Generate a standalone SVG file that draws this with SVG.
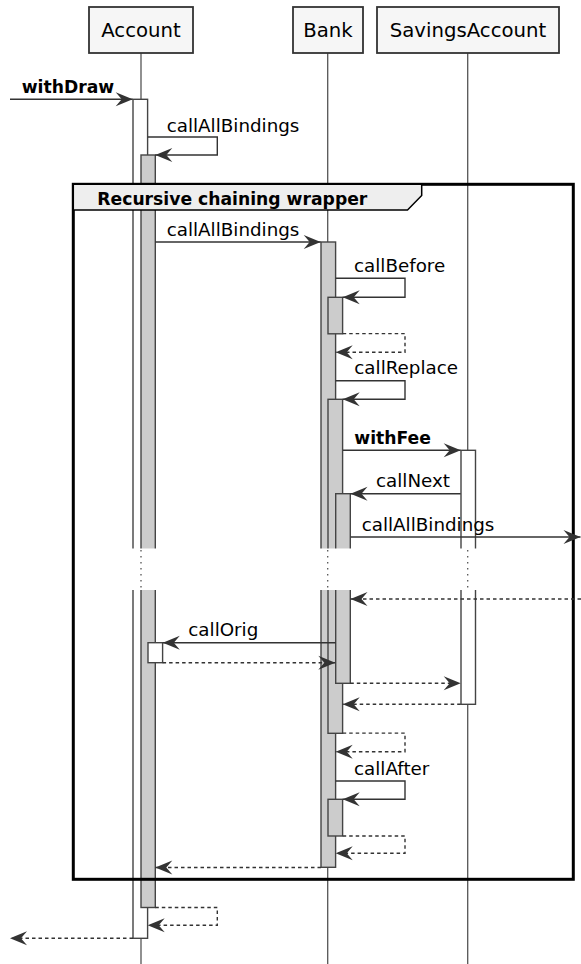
<svg xmlns="http://www.w3.org/2000/svg" width="581" height="964" viewBox="0 0 581 964">
<style>
.pbox{fill:#F6F6F6;stroke:#333;stroke-width:1.8}
.ptxt{font-family:"DejaVu Sans",sans-serif;font-size:19.7px;fill:#000;text-anchor:middle}
.life{stroke:#555;stroke-width:1.3;fill:none}
.actg{fill:#CCCCCC;stroke:#444;stroke-width:1.4}
.actw{fill:#FFFFFF;stroke:#444;stroke-width:1.4}
.msg{fill:none;stroke:#333;stroke-width:1.4;marker-end:url(#ah)}
.ret{fill:none;stroke:#333;stroke-width:1.4;stroke-dasharray:3.5,3;marker-end:url(#ah)}
.lbl{font-family:"DejaVu Sans",sans-serif;font-size:18.3px;fill:#000}
.blbl{font-family:"DejaVu Sans",sans-serif;font-size:17.2px;font-weight:bold;fill:#000}
.dots{stroke:#555;stroke-width:1.3;stroke-dasharray:1.5,4.5}
</style>
<defs>
<marker id="ah" markerUnits="userSpaceOnUse" markerWidth="20" markerHeight="16" viewBox="-18 -8 20 16" refX="0" refY="0" orient="auto">
<path d="M0,0 L-17,-7 L-11,0 L-17,7 Z" fill="#333"/>
</marker>
</defs>
<rect width="581" height="964" fill="#FFFFFF"/>

<g id="Account">
<line class="life" x1="141" y1="53" x2="141" y2="964"/>
<rect class="pbox" x="89" y="7" width="104" height="46"/>
<text class="ptxt" x="141" y="37">Account</text>
</g>
<g id="Bank">
<line class="life" x1="327.7" y1="53" x2="327.7" y2="964"/>
<rect class="pbox" x="293" y="7" width="70" height="46"/>
<text class="ptxt" x="328" y="37">Bank</text>
</g>
<g id="SavingsAccount">
<line class="life" x1="467.7" y1="53" x2="467.7" y2="964"/>
<rect class="pbox" x="377" y="7" width="182" height="46"/>
<text class="ptxt" x="468" y="37">SavingsAccount</text>
</g>

<g id="activations">
<rect class="actw" x="133" y="99.3" width="14.6" height="839"/>
<rect class="actg" x="141" y="155" width="14.3" height="752.5"/>
<rect class="actw" x="148" y="642.7" width="14.6" height="20"/>
<rect class="actg" x="321" y="242" width="14.6" height="625.3"/>
<rect class="actg" x="328" y="297.3" width="14.6" height="36.5"/>
<rect class="actg" x="328" y="399.3" width="14.6" height="334"/>
<rect class="actg" x="335.7" y="493.7" width="14.6" height="189.6"/>
<rect class="actg" x="328" y="799.3" width="14.6" height="36.7"/>
<rect class="actw" x="461" y="450.3" width="14.5" height="254"/>
</g>

<g id="break">
<rect x="125" y="548.5" width="360" height="41.5" fill="#FFFFFF"/>
<line class="dots" x1="141" y1="550" x2="141" y2="588"/>
<line class="dots" x1="327.7" y1="550" x2="327.7" y2="588"/>
<line class="dots" x1="467.7" y1="550" x2="467.7" y2="588"/>
</g>

<g id="frame">
<rect x="73.3" y="184.3" width="500" height="695" fill="none" stroke="#000" stroke-width="3"/>
<path d="M73.3,184.3 H421.7 V195.5 L407.5,210 H73.3 Z" fill="#EEEEEE" stroke="#000" stroke-width="1.5"/>
<text class="blbl" x="97.3" y="205">Recursive chaining wrapper</text>
</g>

<g id="connectors">
<path class="msg" d="M10,99.3 H132.7"/>
<path class="msg" d="M147.7,137 H217.3 V155 H155.3"/>
<path class="msg" d="M155.3,242 H320.7"/>
<path class="msg" d="M335.7,278.3 H405 V297.3 H342.7"/>
<path class="ret" d="M342.7,333.6 H405 V352.3 H335.7"/>
<path class="msg" d="M335.7,380.7 H405 V399.3 H342.7"/>
<path class="msg" d="M343,450.3 H460.7"/>
<path class="msg" d="M460.7,493.7 H350.5"/>
<path class="msg" d="M350.5,537 H580.5"/>
<path class="ret" d="M581,599 H350.5"/>
<path class="msg" d="M335.7,642.7 H162.8"/>
<path class="ret" d="M162.6,662.7 H335.3"/>
<path class="ret" d="M350.3,683.3 H460.7"/>
<path class="ret" d="M460.7,704.3 H342.7"/>
<path class="ret" d="M342.7,733.1 H405 V751.7 H335.7"/>
<path class="msg" d="M335.7,781 H405 V799.3 H342.7"/>
<path class="ret" d="M342.7,836 H405 V853.3 H335.7"/>
<path class="ret" d="M321,867.5 H155.3"/>
<path class="ret" d="M155.3,907.5 H217.3 V925.3 H147.7"/>
<path class="ret" d="M133,938.3 H10"/>
</g>

<g id="labels">
<text class="blbl" x="21.7" y="92.5">withDraw</text>
<text class="lbl" x="166.7" y="131.5">callAllBindings</text>
<text class="lbl" x="166.7" y="235.5">callAllBindings</text>
<text class="lbl" x="354" y="271.8">callBefore</text>
<text class="lbl" x="354.3" y="374">callReplace</text>
<text class="blbl" x="354.3" y="443.8">withFee</text>
<text class="lbl" x="376" y="487">callNext</text>
<text class="lbl" x="361.7" y="530.5">callAllBindings</text>
<text class="lbl" x="188.3" y="636">callOrig</text>
<text class="lbl" x="354" y="774.5">callAfter</text>
</g>
</svg>
